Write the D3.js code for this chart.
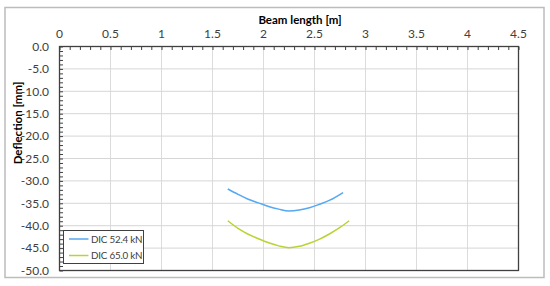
<!DOCTYPE html>
<html>
<head>
<meta charset="utf-8">
<script src="https://cdn.jsdelivr.net/npm/d3@7"></script>
<style>
  body { margin: 0; background: #fff; }
  text { font-family: Lato, "Open Sans", sans-serif; fill: #404040; }
</style>
</head>
<body>
<svg width="550" height="286"></svg>
<script>
// beam position [m] and deflection [mm]
let x524 = [1.65, 1.75, 1.85, 1.95, 2.05, 2.15, 2.25, 2.35, 2.45, 2.55, 2.65, 2.78];
let y524 = [-31.8, -33.0, -34.1, -34.9, -35.7, -36.3, -36.7, -36.5, -36.0, -35.2, -34.3, -32.6];
let x650 = [1.65, 1.75, 1.85, 1.95, 2.05, 2.15, 2.25, 2.35, 2.45, 2.55, 2.65, 2.75, 2.84];
let y650 = [-38.9, -40.6, -41.9, -42.9, -43.8, -44.5, -44.9, -44.6, -43.9, -43.0, -41.8, -40.4, -38.9];
let seriesNames = ['DIC 52.4 kN', 'DIC 65.0 kN'];
let seriesColors = ['#55a8f2', '#b8d432'];
let xTicks = [0, 0.5, 1, 1.5, 2, 2.5, 3, 3.5, 4, 4.5];
let yTicks = [0, -5, -10, -15, -20, -25, -30, -35, -40, -45, -50];

let svg = d3.select('svg');

// outer chart frame
svg.append('rect')
	.attr('x', 5).attr('y', 7.5)
	.attr('width', 539).attr('height', 270)
	.attr('fill', 'none')
	.attr('stroke', '#bcbcbc')
	.attr('stroke-width', 1.5);

let mLeft = 59.5, mRight = 518.5, mTop = 46.5, mBottom = 270.5;

let x = d3.scaleLinear().domain([0, 4.5]).range([mLeft, mRight]);
let y = d3.scaleLinear().domain([0, -50]).range([mTop, mBottom]);

let chart = svg.append('g');

// grid
chart.selectAll('.vgrid')
	.data(xTicks.slice(1, -1))
	.enter()
	.append('line')
	.attr('x1', d => x(d)).attr('x2', d => x(d))
	.attr('y1', mTop).attr('y2', mBottom)
	.attr('stroke', '#dcdcdc').attr('stroke-width', 1);

chart.selectAll('.hgrid')
	.data(yTicks.slice(1, -1))
	.enter()
	.append('line')
	.attr('x1', mLeft).attr('x2', mRight)
	.attr('y1', d => y(d)).attr('y2', d => y(d))
	.attr('stroke', '#d6d6d6').attr('stroke-width', 1);

// plot border
chart.append('rect')
	.attr('x', mLeft).attr('y', mTop)
	.attr('width', mRight - mLeft).attr('height', mBottom - mTop)
	.attr('fill', 'none')
	.attr('stroke', '#404040')
	.attr('stroke-width', 1.3);

// axes: minor ticks inside
let xAxis = d3.axisTop(x)
	.tickValues(d3.range(0, 4.51, 0.1))
	.tickSizeInner(-3.5)
	.tickSizeOuter(0)
	.tickFormat('');
chart.append('g')
	.attr('transform', 'translate(0,' + mTop + ')')
	.call(xAxis)
	.call(g => g.select('.domain').remove())
	.selectAll('line').attr('stroke', '#404040');

let yAxis = d3.axisLeft(y)
	.tickValues(d3.range(0, -50.5, -1))
	.tickSizeInner(-3.5)
	.tickSizeOuter(0)
	.tickFormat('');
chart.append('g')
	.attr('transform', 'translate(' + mLeft + ',0)')
	.call(yAxis)
	.call(g => g.select('.domain').remove())
	.selectAll('line').attr('stroke', '#404040');

// tick labels
chart.selectAll('.xlab')
	.data(xTicks)
	.enter()
	.append('text')
	.attr('x', d => x(d))
	.attr('y', 37.5)
	.attr('text-anchor', 'middle')
	.attr('font-size', '12px')
	.text(d => d);

chart.selectAll('.ylab')
	.data(yTicks)
	.enter()
	.append('text')
	.attr('x', 49)
	.attr('y', d => y(d) + 4.2)
	.attr('text-anchor', 'end')
	.attr('font-size', '12px')
	.text(d => d3.format('.1f')(d).replace('−', '-'));

// axis titles
svg.append('text')
	.attr('x', 300)
	.attr('y', 24)
	.attr('text-anchor', 'middle')
	.attr('font-size', '11.5px')
	.attr('font-weight', 'bold')
	.style('fill', '#000')
	.text('Beam length [m]');

svg.append('text')
	.attr('transform', 'translate(22,123) rotate(-90)')
	.attr('text-anchor', 'middle')
	.attr('font-size', '11.5px')
	.attr('font-weight', 'bold')
	.style('fill', '#000')
	.text('Deflection [mm]');

// curves
let series = [
	x524.map((d, i) => ({ x: d, y: y524[i] })),
	x650.map((d, i) => ({ x: d, y: y650[i] }))
];

let line = d3.line()
	.x(d => x(d.x))
	.y(d => y(d.y))
	.curve(d3.curveMonotoneX);

series.map(function(s, idx) {
	chart.append('path')
		.datum(s)
		.attr('fill', 'none')
		.attr('stroke', seriesColors[idx])
		.attr('stroke-width', 1.5)
		.attr('d', line);
});

// legend
let legend = svg.append('g');
legend.append('rect')
	.attr('x', 63.5).attr('y', 230.5)
	.attr('width', 80).attr('height', 33)
	.attr('fill', '#fff')
	.attr('stroke', '#404040')
	.attr('stroke-width', 1);

seriesNames.map(function(name, idx) {
	let ly = 239 + idx * 16.5;
	legend.append('line')
		.attr('x1', 69).attr('x2', 88.5)
		.attr('y1', ly).attr('y2', ly)
		.attr('stroke', seriesColors[idx])
		.attr('stroke-width', 1.5);
	legend.append('text')
		.attr('x', 91)
		.attr('y', ly + 3.5)
		.attr('font-size', '9.8px')
		.attr('letter-spacing', '-0.2px')
		.text(name);
});
</script>
</body>
</html>
